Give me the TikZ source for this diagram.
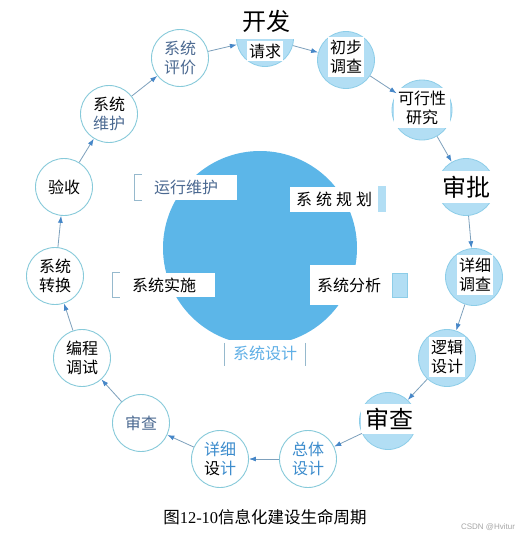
\documentclass[tikz,border=0pt]{standalone}
\usepackage{fontspec}
\setmainfont{Liberation Serif}
\newfontfamily\cjk{Noto Sans CJK SC}
\newfontfamily\wmfont{Liberation Sans}
\usetikzlibrary{arrows.meta}
\definecolor{bigblue}{RGB}{92,182,232}
\definecolor{lblue}{RGB}{178,222,244}
\definecolor{lline}{RGB}{140,205,232}
\definecolor{oline}{RGB}{135,202,218}
\definecolor{arr}{RGB}{125,160,188}
\definecolor{tip}{RGB}{70,135,200}
\definecolor{bgray}{RGB}{75,105,145}
\definecolor{tblue}{RGB}{60,140,205}
\definecolor{sblue}{RGB}{95,175,230}
\definecolor{brk}{RGB}{150,185,205}
\begin{document}
\begin{tikzpicture}[x=1pt,y=-1pt,
  every node/.style={font=\cjk},
  fcirc/.style={circle, fill=lblue, draw=lline, line width=0.8pt, minimum size=57pt, inner sep=0pt},
  ocirc/.style={circle, fill=white, draw=oline, line width=0.9pt, minimum size=57pt, inner sep=0pt, align=center, font=\cjk\fontsize{16}{19}\selectfont},
  wtxt/.style={fill=white, inner xsep=2pt, inner ysep=3pt, align=center, font=\cjk\fontsize{16}{19}\selectfont},
  bigtxt/.style={fill=white, inner xsep=3pt, inner ysep=4pt, font=\cjk\fontsize{24}{26}\selectfont},
  flow/.style={draw=arr, line width=0.8pt, -{Latex[length=7pt,width=5pt,color=tip]}},
  lab/.style={fill=white, inner sep=0pt, font=\cjk\fontsize{16}{19}\selectfont}
]
\useasboundingbox (0,0) rectangle (526,538);
\fill[white] (0,0) rectangle (526,538);

% central circle
\node[circle, fill=bigblue, minimum size=194pt, inner sep=0pt] (big) at (260,248) {};

% inner labels
\node[lab, minimum width=102pt, minimum height=25pt, text=bgray] (l1) at (186,187.5) {运行维护};
\draw[brk, line width=0.8pt] ([xshift=7pt]l1.north west) -- (l1.north west) -- (l1.south west) -- ([xshift=7pt]l1.south west);

\fill[lblue] (378,186) rectangle (386,212);
\node[lab, minimum width=88pt, minimum height=25pt] (l2) at (334,199.5) {系\hspace{4pt}统\hspace{4pt}规\hspace{4pt}划};

\node[lab, minimum width=102pt, minimum height=24pt] (l3) at (164,285) {系统实施};
\draw[brk, line width=0.8pt] ([xshift=7pt]l3.north west) -- (l3.north west) -- (l3.south west) -- ([xshift=7pt]l3.south west);

\fill[lblue] (392,273) rectangle (407,297);
\draw[lline, line width=0.5pt] (392,273) rectangle (407,297);
\node[lab, minimum width=78pt, minimum height=40pt] (l4) at (349,285) {系统分析};

\node[lab, minimum width=80pt, minimum height=26pt, text=sblue] (l5) at (265,353) {系统设计};
\draw[brk, line width=0.8pt] ([yshift=-3pt]l5.north west) -- (l5.south west);
\draw[brk, line width=0.8pt] ([yshift=-3pt]l5.north east) -- (l5.south east);

% outer cycle: outline circles
\node[ocirc, text=bgray] (c1) at (180,58) {系统\\评价};
\node[ocirc] (c15) at (109,114) {系统\\{\color{bgray}维护}};
\node[ocirc] (c14) at (64,187) {验收};
\node[ocirc] (c13) at (55,276) {系统\\转换};
\node[ocirc] (c12) at (82,358) {编程\\调试};
\node[ocirc, text=bgray] (c11) at (141,423) {审查};
\node[ocirc] (c10) at (220,459) {{\color{tblue}详细}\\设{\color{tblue}计}};
\node[ocirc, text=tblue] (c9) at (308,459) {总体\\设计};

% filled circles
\node[fcirc] (c2) at (265,38) {};
\node[bigtxt, minimum width=68pt, minimum height=36pt] (t2a) at (266,21) {开发};
\node[wtxt] (t2) at (265,51) {请求};

\node[fcirc] (c3) at (346,60) {};
\node[wtxt] (t3) at (346,57) {初步\\调查};

\node[fcirc, minimum size=60pt] (c4) at (422,110) {};
\node[wtxt, inner xsep=4pt] (t4) at (422,108) {可行性\\研究};

\node[fcirc] (c5) at (466,187) {};
\node[bigtxt, inner ysep=5pt, minimum width=58pt] (t5) at (466,187) {审批};

\node[fcirc] (c6) at (474,277) {};
\node[wtxt] (t6) at (475,275) {详细\\调查};

\node[fcirc] (c7) at (447,358) {};
\node[wtxt] (t7) at (447,357) {逻辑\\设计};

\node[fcirc] (c8) at (388,421) {};
\node[bigtxt, minimum width=56pt] (t8) at (389,419) {审查};

% connectors
\draw[flow] (c1) -- (c2);
\draw[flow] (c2) -- (c3);
\draw[flow] (c3) -- (c4);
\draw[flow] (c4) -- (c5);
\draw[flow] (c5) -- (c6);
\draw[flow] (c6) -- (c7);
\draw[flow] (c7) -- (c8);
\draw[flow] (c8) -- (c9);
\draw[flow] (c9) -- (c10);
\draw[flow] (c10) -- (c11);
\draw[flow] (c11) -- (c12);
\draw[flow] (c12) -- (c13);
\draw[flow] (c13) -- (c14);
\draw[flow] (c14) -- (c15);
\draw[flow] (c15) -- (c1);

% caption
\node[font=\fontsize{16.5}{18}\selectfont, inner sep=0pt] (cap) at (265,517) {{\cjk 图}12-10{\cjk 信息化建设生命周期}};
\node[font=\wmfont\fontsize{8}{9}\selectfont, text=black!35, inner sep=0pt] (wm) at (488,527) {CSDN @Hvitur};
\end{tikzpicture}
\end{document}
